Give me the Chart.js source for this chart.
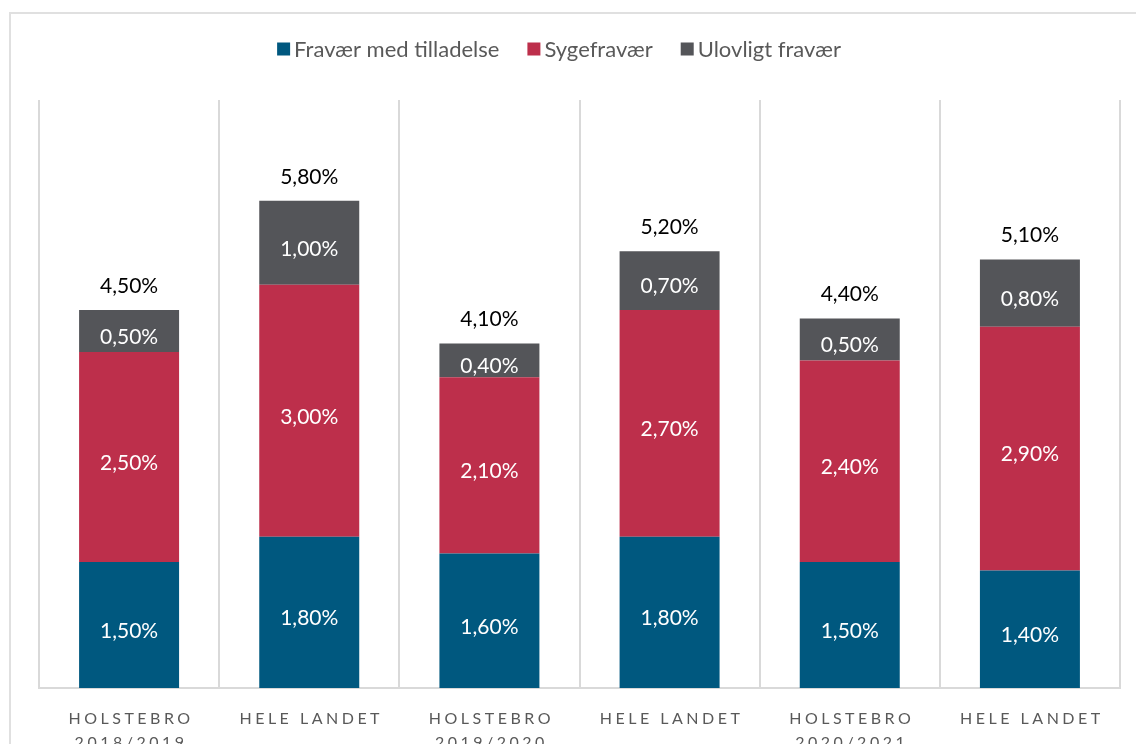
<!DOCTYPE html>
<html>
<head>
<meta charset="utf-8">
<script src="https://cdn.jsdelivr.net/npm/chart.js@4.4.0/dist/chart.umd.min.js"></script>
<style>
    html, body { margin: 0; padding: 0; background: #fff; overflow: hidden; }
    #frame { position: absolute; left: 9px; top: 12px; width: 1200px; height: 800px; border: 2px solid #e0e0e0; }
    #wrap { position: absolute; left: 0; top: 0; width: 1136px; height: 770px; }
</style>
</head>
<body>
<div id="frame"></div>
<div id="wrap"><canvas id="absenceChart"></canvas></div>
<script>
// Fravær data (percent)
const categories = [
    ['HOLSTEBRO', '2018/2019'],
    ['HELE LANDET'],
    ['HOLSTEBRO', '2019/2020'],
    ['HELE LANDET'],
    ['HOLSTEBRO', '2020/2021'],
    ['HELE LANDET']
];
const seriesNames = ['Fravær med tilladelse', 'Sygefravær', 'Ulovligt fravær'];
const medTilladelse = [1.5, 1.8, 1.6, 1.8, 1.5, 1.4];
const sygefravaer = [2.5, 3.0, 2.1, 2.7, 2.4, 2.9];
const ulovligt = [0.5, 1.0, 0.4, 0.7, 0.5, 0.8];
const totals = [4.5, 5.8, 4.1, 5.2, 4.4, 5.1];
const yMax = 7;

const colors = ['#00587f', '#bd2f4b', '#545559'];
const FONT = 'Lato, "Open Sans", sans-serif';

function pct(v) {
    return v.toFixed(2).replace('.', ',') + '%';
}

// draws legend, segment labels, totals and category labels
const labelPlugin = {
    id: 'labelPlugin',
    afterDatasetsDraw(chart) {
        const ctx = chart.ctx;
        ctx.save();
        ctx.textAlign = 'center';
        ctx.textBaseline = 'middle';
        ctx.font = '21px ' + FONT;

        // values inside segments
        chart.data.datasets.forEach((ds, i) => {
            const meta = chart.getDatasetMeta(i);
            meta.data.forEach((bar, j) => {
                ctx.fillStyle = '#ffffff';
                ctx.fillText(pct(ds.data[j]), bar.x, (bar.y + bar.base) / 2 + 6);
            });
        });

        // totals above bars
        const top = chart.getDatasetMeta(chart.data.datasets.length - 1);
        top.data.forEach((bar, j) => {
            ctx.fillStyle = '#000000';
            ctx.fillText(pct(totals[j]), bar.x, bar.y - 24);
        });

        // category labels with letter spacing
        const x = chart.scales.x;
        ctx.fillStyle = '#595959';
        ctx.font = '16px ' + FONT;
        ctx.letterSpacing = '3.5px';
        categories.forEach((lines, j) => {
            const cx = x.getPixelForValue(j) + 2;
            lines.forEach((txt, k) => {
                ctx.fillText(txt, cx, chart.chartArea.bottom + 31 + k * 24);
            });
        });
        ctx.letterSpacing = '0px';

        // legend
        ctx.font = '22px ' + FONT;
        ctx.textAlign = 'left';
        const box = 13, gapText = 4, gapItem = 28;
        const widths = seriesNames.map(n => box + gapText + ctx.measureText(n).width);
        const total = widths.reduce((a, b) => a + b, 0) + gapItem * (widths.length - 1);
        let lx = 559 - total / 2;
        const ly = 49;
        seriesNames.forEach((n, i) => {
            ctx.fillStyle = colors[i];
            ctx.fillRect(lx, ly - box / 2, box, box);
            ctx.fillStyle = '#595959';
            ctx.fillText(n, lx + box + gapText, ly + 1);
            lx += widths[i] + gapItem;
        });
        ctx.restore();
    }
};

const ctx = document.getElementById('absenceChart').getContext('2d');
new Chart(ctx, {
    type: 'bar',
    data: {
        labels: categories,
        datasets: [
            { label: seriesNames[0], data: medTilladelse, backgroundColor: colors[0] },
            { label: seriesNames[1], data: sygefravaer, backgroundColor: colors[1] },
            { label: seriesNames[2], data: ulovligt, backgroundColor: colors[2] }
        ]
    },
    options: {
        responsive: true,
        maintainAspectRatio: false,
        animation: false,
        layout: { padding: { left: 39, right: 16, top: 100, bottom: 82 } },
        datasets: { bar: { categoryPercentage: 1, barPercentage: 0.555, borderWidth: 0 } },
        plugins: { legend: { display: false }, tooltip: { enabled: false } },
        scales: {
            x: {
                stacked: true,
                grid: { display: true, offset: true, color: '#d9d9d9', lineWidth: 2, drawTicks: false },
                border: { display: true, color: '#d9d9d9', width: 2 },
                ticks: { display: false }
            },
            y: {
                stacked: true,
                display: false,
                min: 0,
                max: yMax
            }
        }
    },
    plugins: [labelPlugin]
});
</script>
</body>
</html>
